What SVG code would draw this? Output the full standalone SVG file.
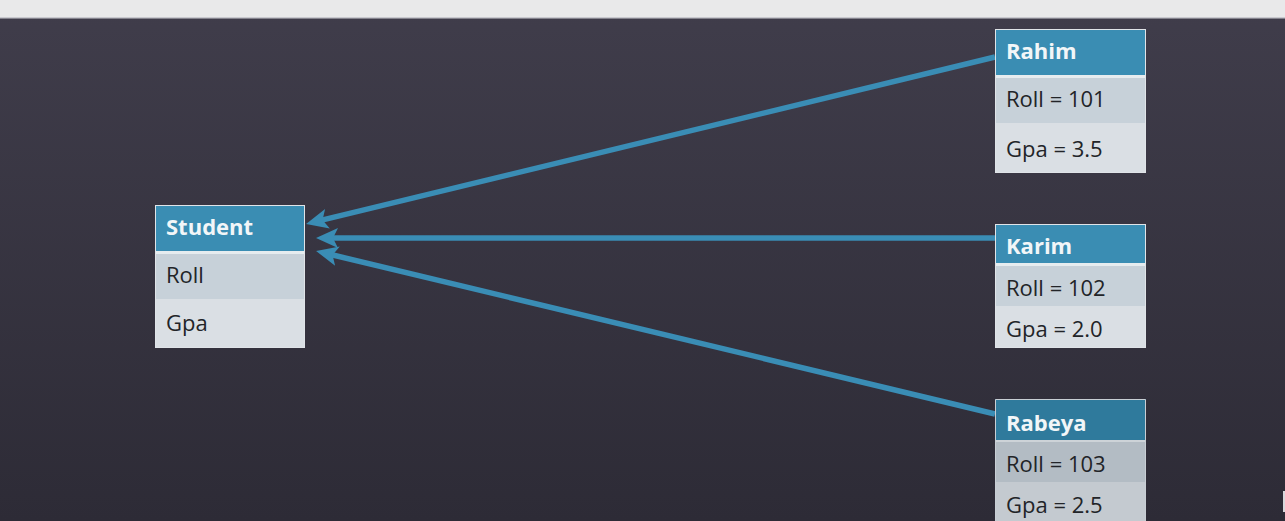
<svg xmlns="http://www.w3.org/2000/svg" width="1285" height="521" viewBox="0 0 1285 521">
<defs>
<linearGradient id="bg" x1="0" y1="0" x2="0" y2="1">
<stop offset="0" stop-color="#403d4b"/>
<stop offset="1" stop-color="#2d2b36"/>
</linearGradient>
<marker id="arr" viewBox="0 0 22 20" refX="9" refY="10" markerWidth="22" markerHeight="20" markerUnits="userSpaceOnUse" orient="auto">
<path d="M0,0 L22,10 L0,20 L5,10 z" fill="#3a8db5"/>
</marker>
<style>
.hdr{fill:#3a8db3}
.hdr2{fill:#2f7a9c}
.r1{fill:#c7d1d9}
.r2{fill:#dadfe4}
.r1d{fill:#b3bcc4}
.r2d{fill:#c4cad0}
.sep{fill:#e6ecef}
.frame{fill:none;stroke:#e0e4e8;stroke-width:1}
.ht{font-family:"Open Sans","DejaVu Sans",sans-serif;font-weight:bold;font-size:22px;fill:#f2f6f8}
.bt{font-family:"Open Sans","DejaVu Sans",sans-serif;font-size:22px;fill:#222428}
.con{stroke:#3a8db5;stroke-width:5.5;fill:none;marker-end:url(#arr)}
</style>
</defs>
<rect x="0" y="0" width="1285" height="521" fill="url(#bg)"/>
<rect x="0" y="0" width="1285" height="17" fill="#e9e9ea"/>
<rect x="0" y="17" width="1285" height="1.5" fill="#c9c9cf"/>
<rect x="1283" y="491" width="2" height="21" fill="#d8d8dc"/>

<g id="connectors">
<path class="con" d="M995,57 L318.7,220.9"/>
<path class="con" d="M995,238 L329,238"/>
<path class="con" d="M995,414 L328.7,254"/>
</g>

<g id="student">
<rect class="hdr" x="155" y="205" width="150" height="46"/>
<rect class="sep" x="155" y="251" width="150" height="3"/>
<rect class="r1" x="155" y="254" width="150" height="45"/>
<rect class="r2" x="155" y="299" width="150" height="49"/>
<rect class="frame" x="155.5" y="205.5" width="149" height="142"/>
<text class="ht" x="166" y="235">Student</text>
<text class="bt" x="166" y="283">Roll</text>
<text class="bt" x="166" y="331">Gpa</text>
</g>

<g id="rahim">
<rect class="hdr" x="995" y="29" width="151" height="46"/>
<rect class="sep" x="995" y="75" width="151" height="3"/>
<rect class="r1" x="995" y="78" width="151" height="45"/>
<rect class="r2" x="995" y="123" width="151" height="50"/>
<rect class="frame" x="995.5" y="29.5" width="150" height="143"/>
<text class="ht" x="1006" y="59">Rahim</text>
<text class="bt" x="1006" y="107">Roll = 101</text>
<text class="bt" x="1006" y="157">Gpa = 3.5</text>
</g>

<g id="karim">
<rect class="hdr" x="995" y="224" width="151" height="39"/>
<rect class="sep" x="995" y="263" width="151" height="3"/>
<rect class="r1" x="995" y="266" width="151" height="40"/>
<rect class="r2" x="995" y="306" width="151" height="42"/>
<rect class="frame" x="995.5" y="224.5" width="150" height="123"/>
<text class="ht" x="1006" y="254">Karim</text>
<text class="bt" x="1006" y="296">Roll = 102</text>
<text class="bt" x="1006" y="337">Gpa = 2.0</text>
</g>

<g id="rabeya">
<rect class="hdr2" x="995" y="399" width="151" height="41"/>
<rect class="sep" x="995" y="440" width="151" height="2" style="fill:#cdd3d8"/>
<rect class="r1d" x="995" y="442" width="151" height="40"/>
<rect class="r2d" x="995" y="482" width="151" height="40"/>
<path d="M995.5,521 V399.5 H1145.5 V521" fill="none" stroke="#c8ced4" stroke-width="1"/>
<text class="ht" x="1006" y="431">Rabeya</text>
<text class="bt" x="1006" y="472">Roll = 103</text>
<text class="bt" x="1006" y="513">Gpa = 2.5</text>
</g>
</svg>
